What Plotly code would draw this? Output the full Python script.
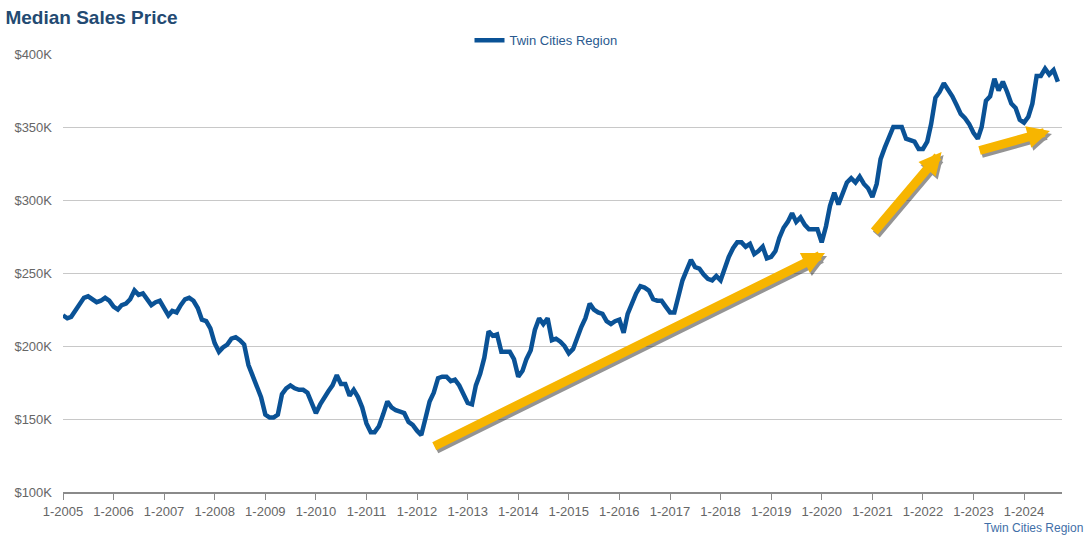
import pandas as pd
import plotly.graph_objects as go

# Median sales price, Twin Cities Region, monthly from Jan 2005 (in $K)
prices_k = [
    # 2005
    221, 219, 220, 224, 229, 233, 234, 232, 230, 231, 233, 231,
    # 2006
    227, 225, 228, 229, 232, 238, 235, 236, 232, 228, 230, 231,
    # 2007
    226, 221, 224, 223, 228, 232, 233, 231, 226, 218, 217, 212,
    # 2008
    202, 196, 199, 201, 205, 206, 204, 201, 187, 180, 173, 165,
    # 2009
    153, 151, 151, 153, 167, 171, 173, 171, 170, 170, 168, 161,
    # 2010
    154, 160, 165, 169, 173, 180, 174, 174, 166, 170, 165, 158,
    # 2011
    147, 141, 141, 145, 153, 162, 158, 156, 155, 154, 148, 146,
    # 2012
    142, 139, 150, 162, 168, 178, 179, 179, 176, 177, 173, 167,
    # 2013
    161, 160, 173, 181, 192, 210, 207, 208, 196, 196, 196, 191,
    # 2014
    179, 183, 191, 197, 211, 219, 215, 219, 204, 205, 203, 200,
    # 2015
    195, 198, 206, 213, 219, 229, 225, 223, 222, 217, 215, 217,
    # 2016
    218, 209, 222, 230, 236, 241, 240, 238, 232, 231, 231, 227,
    # 2017
    223, 223, 234, 245, 252, 259, 254, 253, 249, 246, 245, 248,
    # 2018
    245, 254, 261, 267, 271, 271, 268, 270, 263, 265, 268, 260,
    # 2019
    261, 265, 274, 281, 285, 291, 285, 288, 283, 280, 280, 280,
    # 2020
    271, 282, 296, 305, 297, 305, 312, 315, 312, 316, 311, 308,
    # 2021
    302, 311, 328, 336, 342, 350, 350, 350, 342, 341, 340, 335,
    # 2022
    335, 340, 352, 370, 374, 380, 376, 371, 365, 359, 356, 352,
    # 2023
    346, 342, 350, 368, 371, 383, 375, 381, 374, 366, 363, 355,
    # 2024
    353, 357, 366, 385, 385, 390, 386, 389, 381,
]
years = list(range(2005, 2025))
y_ticks_k = [100, 150, 200, 250, 300, 350, 400]
series_name = "Twin Cities Region"

dates = pd.date_range("2005-01-01", periods=len(prices_k), freq="MS")
year_ticks = [pd.Timestamp(f"{y}-01-01") for y in years]
year_text = [f"1-{y}" for y in years]
y_text = [f"${v}K" for v in y_ticks_k]

LINE = "#0a5296"
ARROW = "#f7b500"

fig = go.Figure()
fig.add_trace(go.Scatter(
    x=dates, y=prices_k, mode="lines", name=series_name,
    line=dict(color=LINE, width=4.5),
    hovertemplate="%{x|%b %Y}: $%{y}K<extra></extra>",
))

# trend arrows (tail -> head), in axis coordinates
arrows = [
    (("2012-04-24", 130.8), ("2020-01-25", 263.7)),
    (("2021-01-06", 277.4), ("2022-05-16", 332.9)),
    (("2023-02-03", 333.6), ("2024-07-06", 347.3)),
]
for (tx, ty), (hx, hy) in arrows:
    for color, xs, ys in (("rgba(20,20,20,0.45)", 2, -3), (ARROW, 0, 0)):
        fig.add_annotation(
            x=hx, y=hy, ax=tx, ay=ty, xref="x", yref="y", axref="x", ayref="y",
            text="", showarrow=True, arrowhead=2, arrowsize=0.5, arrowwidth=9,
            arrowcolor=color, xshift=xs, yshift=ys,
        )

fig.add_annotation(
    text=series_name, xref="paper", yref="paper", x=1.023, y=-0.062,
    xanchor="right", yanchor="top", showarrow=False,
    font=dict(size=12, color="#3f6fa8", family="Liberation Sans, Arial, sans-serif"),
)

fig.update_layout(
    width=1092, height=537,
    margin=dict(l=63, r=30, t=54, b=45, autoexpand=False),
    paper_bgcolor="white", plot_bgcolor="white",
    font=dict(family="Liberation Sans, Arial, sans-serif", size=13, color="#666666"),
    title=dict(text="<b>Median Sales Price</b>", x=0.005, xanchor="left",
               y=0.968, yanchor="middle", xref="container", yref="container",
               font=dict(size=19, color="#234a72")),
    showlegend=True,
    legend=dict(orientation="h", x=0.5, xanchor="center", xref="container",
                y=0.925, yanchor="middle", yref="container",
                font=dict(size=13, color="#2a5a8f"), itemwidth=30),
    xaxis=dict(
        range=["2005-01-01", "2024-10-01"], tickmode="array",
        tickvals=year_ticks, ticktext=year_text, showgrid=False,
        showline=True, linecolor="#8a8a8a", linewidth=2,
        ticks="outside", ticklen=6, tickcolor="#8a8a8a", tickwidth=1,
        tickfont=dict(size=13, color="#666666"), zeroline=False,
    ),
    yaxis=dict(
        range=[100, 400], tickmode="array", tickvals=y_ticks_k, ticktext=y_text,
        showgrid=True, gridcolor="#c8c8c8",
        gridwidth=1, zeroline=False, showline=False,
        tickfont=dict(size=13, color="#666666"), ticklabelstandoff=10,
    ),
)

fig.write_html("out.html", config={"displayModeBar": False},
               post_script="document.body.style.margin='0';")
